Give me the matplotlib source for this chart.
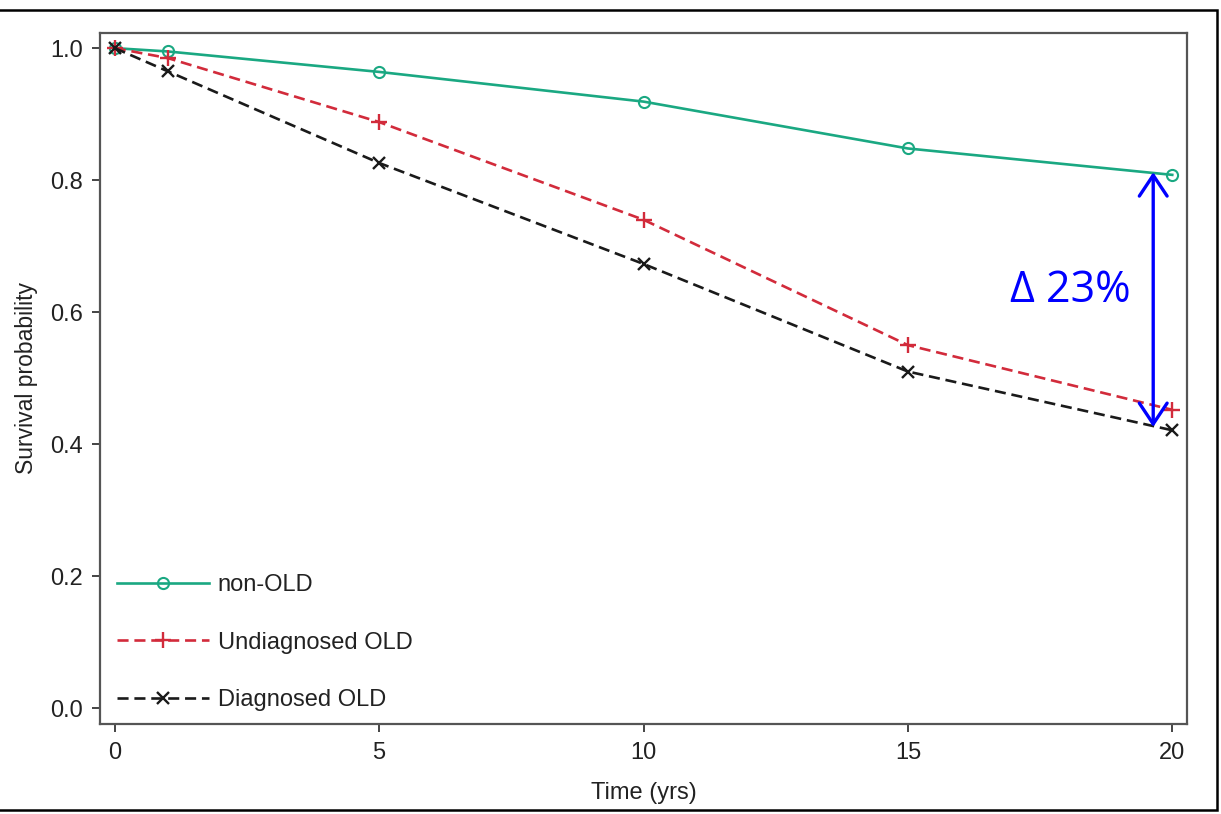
import matplotlib
matplotlib.use("Agg")
import matplotlib.pyplot as plt
from matplotlib.patches import Rectangle

# survival curves
years = [0, 1, 5, 10, 15, 20]
non_old = [1.0, 0.995, 0.964, 0.919, 0.848, 0.808]
undiag_old = [1.0, 0.985, 0.888, 0.740, 0.550, 0.452]
diag_old = [1.0, 0.965, 0.826, 0.673, 0.510, 0.421]
series_labels = ["non-OLD", "Undiagnosed OLD", "Diagnosed OLD"]
x_ticks = [0, 5, 10, 15, 20]
y_ticks = [0.0, 0.2, 0.4, 0.6, 0.8, 1.0]
gap_top, gap_bottom = 0.812, 0.426
gap_text = "Δ 23%"

plt.rcParams["font.family"] = ["Liberation Sans", "DejaVu Sans"]

fig = plt.figure(figsize=(12.21, 8.14), dpi=100)
ax = fig.add_axes([0.0819, 0.1106, 0.8903, 0.8489])

teal = "#1aa882"
red = "#d22b3b"
dark = "#222222"
fs = 17

ax.plot(years, non_old, color=teal, lw=1.9, marker="o", ms=8,
        mfc="none", mew=1.5, label=series_labels[0])
ax.plot(years, undiag_old, color=red, lw=1.9, ls=(0, (4.2, 2.2)),
        marker="+", ms=12, mew=1.7, label=series_labels[1])
ax.plot(years, diag_old, color="#1a1a1a", lw=1.9, ls=(0, (4.2, 2.2)),
        marker="x", ms=8.5, mew=1.7, label=series_labels[2])

ax.set_xlim(-0.28, 20.28)
ax.set_ylim(-0.024, 1.023)
ax.set_xticks(x_ticks)
ax.set_yticks(y_ticks)
ax.set_xticklabels([str(t) for t in x_ticks])
ax.set_yticklabels(["%.1f" % t for t in y_ticks])
ax.tick_params(axis="both", length=6, width=1.4, color="#444444",
               labelsize=fs, labelcolor=dark)
ax.tick_params(axis="y", pad=6)
ax.tick_params(axis="x", pad=7)
for sp in ax.spines.values():
    sp.set_color("#555555")
    sp.set_linewidth(1.6)

ax.set_xlabel("Time (yrs)", fontsize=fs, color=dark)
ax.set_ylabel("Survival probability", fontsize=fs - 0.5, color=dark)
ax.xaxis.set_label_coords(0.5, -0.084)
ax.yaxis.set_label_coords(-0.057, 0.5)

leg = ax.legend(loc="lower left", bbox_to_anchor=(0.004, 0.0), frameon=False,
                fontsize=fs, handlelength=3.9, handletextpad=0.35,
                labelspacing=1.5, borderaxespad=0.2, borderpad=0.35)
for t in leg.get_texts():
    t.set_color(dark)

# the gap at 20 years
ax.annotate("", xy=(19.64, gap_top), xytext=(19.64, gap_bottom),
            arrowprops=dict(arrowstyle="<->,head_length=0.75,head_width=0.5",
                            color="#0000ff", lw=2.4, shrinkA=0, shrinkB=0,
                            mutation_scale=20))
ax.text(18.07, 0.632, gap_text, color="#0000ff", fontsize=31,
        family=["Open Sans", "DejaVu Sans"], ha="center", va="center")

fig.patches.append(Rectangle((-0.01, 0.005), 1217 / 1221 + 0.01, 0.983,
                             transform=fig.transFigure, fill=False,
                             ec="black", lw=1.8))

fig.savefig("out.png", dpi=100)
